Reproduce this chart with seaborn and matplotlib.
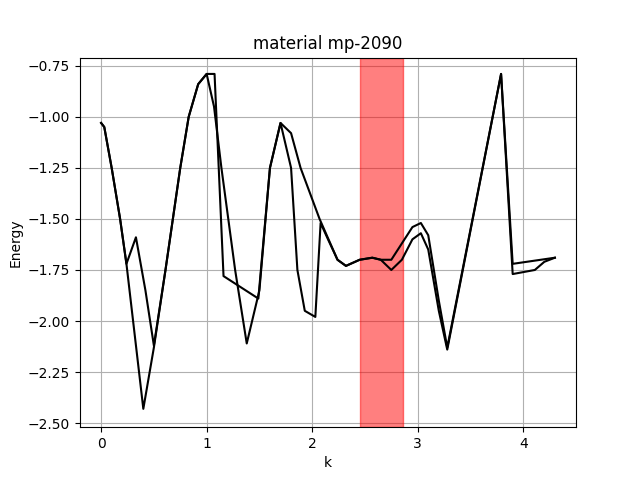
import matplotlib
matplotlib.use('Agg')
import matplotlib.pyplot as plt
import seaborn as sns

# band 1 (k, energy)
k1 = [0.0, 0.03, 0.10, 0.18, 0.24, 0.33, 0.42, 0.50, 0.61, 0.75, 0.83, 0.92, 1.0,
      1.075, 1.16, 1.49, 1.60, 1.70, 1.80, 1.86, 1.93, 2.03, 2.08, 2.15, 2.24, 2.32,
      2.45, 2.57, 2.65, 2.75, 2.85, 2.95, 3.03, 3.10, 3.20, 3.28, 3.79, 3.90, 4.11, 4.20, 4.30]
e1 = [-1.03, -1.05, -1.25, -1.50, -1.72, -1.59, -1.85, -2.12, -1.75, -1.25, -1.00, -0.84, -0.79,
      -0.79, -1.78, -1.89, -1.25, -1.03, -1.25, -1.75, -1.95, -1.98, -1.52, -1.60, -1.70, -1.73,
      -1.70, -1.69, -1.70, -1.75, -1.70, -1.60, -1.57, -1.65, -1.95, -2.14, -0.79, -1.77, -1.75, -1.71, -1.69]

# band 2 (k, energy)
k2 = [0.0, 0.03, 0.10, 0.18, 0.24, 0.40, 0.50, 0.61, 0.75, 0.83, 0.92, 1.0,
      1.07, 1.14, 1.27, 1.38, 1.50, 1.60, 1.70, 1.80, 1.89, 2.07, 2.24, 2.32,
      2.45, 2.57, 2.65, 2.75, 2.85, 2.95, 3.03, 3.10, 3.20, 3.28, 3.79, 3.90, 4.30]
e2 = [-1.03, -1.05, -1.25, -1.50, -1.72, -2.43, -2.13, -1.75, -1.25, -1.00, -0.84, -0.79,
      -0.95, -1.25, -1.75, -2.11, -1.85, -1.25, -1.03, -1.08, -1.25, -1.50, -1.70, -1.73,
      -1.70, -1.69, -1.70, -1.70, -1.62, -1.54, -1.52, -1.58, -1.90, -2.13, -0.79, -1.72, -1.69]

span_lo, span_hi = 2.457, 2.857

fig, ax = plt.subplots(figsize=(6.4, 4.8), dpi=100)
sns.lineplot(x=k1, y=e1, sort=False, color='black', ax=ax)
sns.lineplot(x=k2, y=e2, sort=False, color='black', ax=ax)
ax.axvspan(span_lo, span_hi, color='red', alpha=0.5)
ax.set_xlim(-0.2, 4.5)
ax.set_ylim(-2.52, -0.71)
ax.set_title('material mp-2090')
ax.set_xlabel('k')
ax.set_ylabel('Energy')
ax.grid(True)
ax.set_axisbelow(True)
plt.savefig('out.png', dpi=100)
plt.close()
